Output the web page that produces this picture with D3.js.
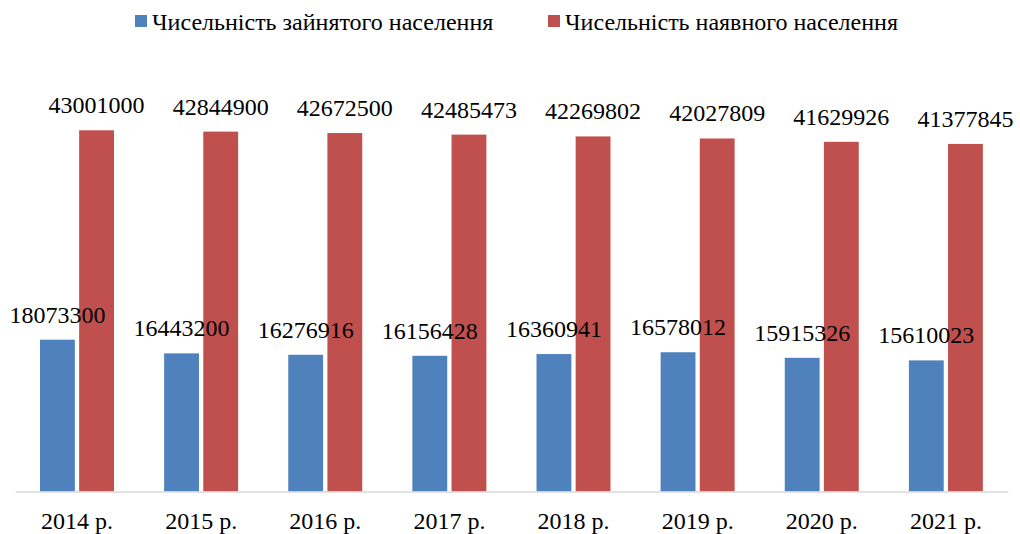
<!DOCTYPE html>
<html lang="uk">
<head>
<meta charset="UTF-8">
<title>Чисельність населення</title>
<style>
  body { margin: 0; background: #fff; }
</style>
</head>
<body>
<svg id="chart" width="1020" height="534"></svg>
<script src="https://d3js.org/d3.v7.min.js"></script>
<script>
// data
const years = ["2014 р.", "2015 р.", "2016 р.", "2017 р.", "2018 р.", "2019 р.", "2020 р.", "2021 р."];
const employed = [18073300, 16443200, 16276916, 16156428, 16360941, 16578012, 15915326, 15610023];
const present = [43001000, 42844900, 42672500, 42485473, 42269802, 42027809, 41629926, 41377845];
const seriesNames = ["Чисельність зайнятого населення", "Чисельність наявного населення"];
const colors = ["#4F81BD", "#C0504D"];

const FONT = "'Liberation Serif', 'Times New Roman', serif";

const svg = d3.select("#chart");

const x = d3.scaleBand().domain(years).range([15, 1008]).paddingInner(0).paddingOuter(0);
const inner = d3.scaleBand().domain([0, 1]).range([25, 124 - 25]).paddingInner(0.11);
const y = d3.scaleLinear().domain([0, 45000000]).range([491.5, 113.5]);

const rows = years.map((yr, i) => ({ yr, vals: [employed[i], present[i]] }));

const groups = svg.append("g").selectAll("g")
  .data(rows)
  .join("g")
    .attr("transform", d => `translate(${x(d.yr)},0)`);

groups.selectAll("rect")
  .data(d => d.vals.map((v, k) => ({ v, k })))
  .join("rect")
    .attr("x", d => inner(d.k))
    .attr("width", inner.bandwidth())
    .attr("y", d => y(d.v))
    .attr("height", d => y(0) - y(d.v))
    .attr("fill", d => colors[d.k]);

groups.selectAll("text.val")
  .data(d => d.vals.map((v, k) => ({ v, k })))
  .join("text")
    .attr("class", "val")
    .attr("x", d => inner(d.k) + inner.bandwidth() / 2)
    .attr("y", d => y(d.v) - 17)
    .attr("text-anchor", "middle")
    .style("font-family", FONT)
    .style("font-size", "24px")
    .style("fill", "#000")
    .text(d => d.v);

// x axis
const xAxis = svg.append("g")
  .attr("transform", `translate(0,${y(0)})`)
  .call(d3.axisBottom(x).tickSize(0).tickPadding(20));
xAxis.select(".domain").attr("stroke", "#D9D9D9").attr("stroke-width", 1.5);
xAxis.selectAll("text")
  .style("font-family", FONT)
  .style("font-size", "24px")
  .style("fill", "#000");

// legend
const legendX = [135, 548];
const legend = svg.append("g").selectAll("g")
  .data(seriesNames)
  .join("g")
    .attr("transform", (d, i) => `translate(${legendX[i]},15)`);
legend.append("rect")
  .attr("width", 12).attr("height", 12)
  .attr("fill", (d, i) => colors[i]);
legend.append("text")
  .attr("x", 17).attr("y", 15)
  .style("font-family", FONT)
  .style("font-size", "24px")
  .style("fill", "#000")
  .text(d => d);
</script>
</body>
</html>
